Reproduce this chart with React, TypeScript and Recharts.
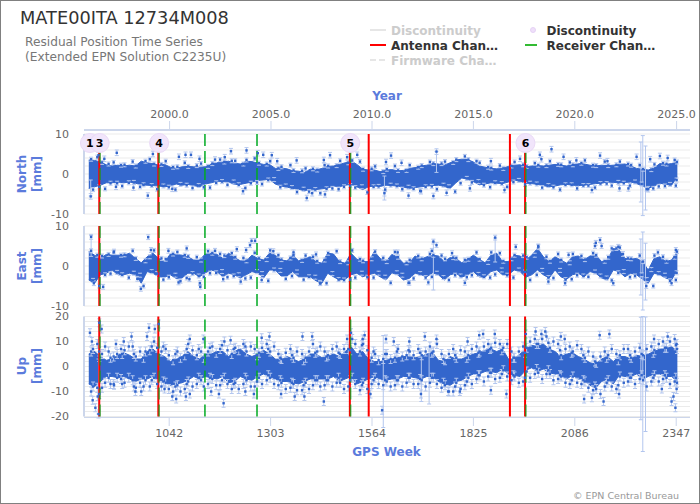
import React from "react";
import {
  ComposedChart, Area, Scatter, XAxis, YAxis, CartesianGrid, ReferenceLine, ErrorBar,
} from "recharts";

const FONT = "'DejaVu Sans', sans-serif";
const BLUE = "#3366cc";
const PALE = "#b3c6ee";
const AXIS = "#ccd6eb";
const LABEL = "#5b7bdc";
const X_DOMAIN = [822.7, 2382.5];

const gpsTicks = [1042, 1303, 1564, 1825, 2086, 2347];
const yearTicks = [1043, 1304, 1564, 1825, 2086, 2348];
const yearLabels = ["2000.0", "2005.0", "2010.0", "2015.0", "2020.0", "2025.0"];

const antennaChanges = [862, 1014, 1507, 1555.5, 1919, 1958];
const receiverSolo = [1134, 1268];
const receiverOver = [864, 1016, 1509, 1960];
const discontinuities = [
  { week: 838, y: 7.75, label: "1" },
  { week: 863, y: 7.75, label: "3" },
  { week: 1016, y: 7.75, label: "4" },
  { week: 1508, y: 7.75, label: "5" },
  { week: 1959, y: 7.75, label: "6" },
];

const bandWeeks = [
  835, 850, 865, 880, 895, 910, 925, 940, 955, 970, 985, 1000, 1015, 1030, 1045, 1060, 1075, 1090, 1105, 1120,
  1135, 1150, 1165, 1180, 1195, 1210, 1225, 1240, 1255, 1270, 1285, 1300, 1315, 1330, 1345, 1360, 1375, 1390, 1405, 1420,
  1435, 1450, 1465, 1480, 1495, 1510, 1525, 1540, 1555, 1570, 1585, 1600, 1615, 1630, 1645, 1660, 1675, 1690, 1705, 1720,
  1735, 1750, 1765, 1780, 1795, 1810, 1825, 1840, 1855, 1870, 1885, 1900, 1915, 1930, 1945, 1960, 1975, 1990, 2005, 2020,
  2035, 2050, 2065, 2080, 2095, 2110, 2125, 2140, 2155, 2170, 2185, 2200, 2215, 2230, 2245, 2260, 2275, 2290, 2305, 2320,
  2335, 2350,
];
const fuzzWeeksA = [
  841, 857, 869, 886, 899, 918, 927, 948, 956, 981, 992, 1003, 1022, 1033, 1052, 1063, 1082, 1091, 1113, 1124,
  1142, 1153, 1173, 1184, 1203, 1212, 1233, 1241, 1262, 1273, 1293, 1302, 1323, 1331, 1354, 1362, 1384, 1393, 1412, 1423,
  1442, 1451, 1473, 1482, 1503, 1513, 1533, 1541, 1563, 1572, 1593, 1602, 1623, 1631, 1653, 1661, 1683, 1692, 1713, 1722,
  1743, 1752, 1773, 1781, 1803, 1812, 1833, 1841, 1863, 1871, 1893, 1902, 1923, 1931, 1953, 1962, 1983, 1992, 2013, 2022,
  2043, 2051, 2073, 2081, 2103, 2112, 2133, 2141, 2163, 2172, 2193, 2202, 2223, 2231, 2253, 2262, 2283, 2291, 2313, 2322,
  2343, 2349,
];
const fuzzWeeksB = [
  846, 862, 877, 891, 908, 921, 938, 951, 967, 976, 997, 1011, 1027, 1041, 1058, 1071, 1087, 1102, 1118, 1131,
  1147, 1163, 1178, 1192, 1208, 1221, 1238, 1252, 1268, 1281, 1297, 1312, 1328, 1342, 1358, 1371, 1388, 1402, 1418, 1431,
  1447, 1462, 1478, 1492, 1508, 1521, 1538, 1552, 1568, 1581, 1598, 1612, 1628, 1642, 1658, 1671, 1688, 1702, 1718, 1731,
  1748, 1762, 1778, 1792, 1808, 1821, 1838, 1852, 1868, 1881, 1898, 1912, 1928, 1942, 1958, 1971, 1988, 2002, 2018, 2031,
  2048, 2062, 2078, 2092, 2108, 2121, 2138, 2152, 2168, 2181, 2198, 2212, 2228, 2241, 2258, 2271, 2288, 2302, 2318, 2331,
  2346, 2348,
];

const northHigh = [
  3.5, 3.4, 3.0, 2.3, 2.0, 2.2, 2.0, 2.2, 2.0, 3.2, 2.8, 2.6, 2.2, 2.4, 1.7, 1.4, 1.8, 1.9, 1.8, 1.7,
  1.8, 2.5, 2.8, 3.0, 3.2, 2.7, 2.5, 3.2, 3.1, 2.7, 2.4, 2.4, 1.4, 1.5, 1.3, 0.8, 0.7, 0.4, 1.2, 1.0,
  1.4, 1.9, 2.0, 2.4, 2.8, 3.3, 2.4, 1.2, 1.0, 1.0, 0.6, 1.0, 1.1, 0.8, 0.9, 1.4, 1.6, 2.0, 2.2, 2.6,
  2.5, 2.2, 2.8, 3.5, 3.7, 3.6, 3.0, 2.0, 1.7, 1.4, 1.3, 1.4, 1.9, 2.2, 2.3, 1.8, 2.0, 2.1, 2.0, 2.2,
  2.4, 2.2, 2.0, 2.3, 2.6, 2.5, 2.2, 2.0, 2.2, 2.1, 2.2, 2.4, 2.5, 2.0, 1.4, 1.2, 1.0, 1.5, 2.6, 2.4,
  2.6, 3.0,
];
const northLow = [
  -3.6, -3.2, -2.8, -2.2, -2.2, -2.0, -2.2, -2.0, -2.3, -2.7, -2.8, -2.9, -3.0, -3.2, -3.0, -2.5, -2.8, -2.6, -2.9, -3.2,
  -2.5, -2.2, -1.8, -1.9, -2.0, -2.6, -2.6, -2.3, -2.0, -1.6, -1.5, -1.3, -2.5, -3.0, -3.3, -3.6, -3.8, -4.2, -3.8, -3.9,
  -3.7, -3.5, -3.0, -3.2, -2.8, -2.6, -3.2, -3.9, -3.2, -3.0, -3.1, -2.8, -2.9, -3.0, -3.3, -3.6, -3.4, -3.2, -3.0, -2.9,
  -2.8, -3.1, -3.6, -2.2, -1.0, -1.3, -1.9, -2.7, -2.5, -2.2, -2.3, -2.4, -2.0, -1.5, -1.8, -2.3, -2.4, -2.6, -2.9, -3.2,
  -3.0, -2.7, -2.6, -2.8, -2.9, -2.8, -2.6, -2.4, -2.3, -2.0, -2.1, -2.2, -2.1, -2.0, -2.4, -3.0, -3.6, -3.0, -2.3, -2.6,
  -2.8, -0.7,
];
const northFuzzHigh = [
  3.7, 4.2, 2.9, 2.5, 2.9, 2.2, 2.3, 3.1, 2.0, 3.2, 3.7, 2.5, 2.4, 3.2, 1.7, 1.8, 2.8, 1.9, 2.1, 2.6,
  1.9, 2.6, 3.6, 3.0, 3.3, 3.3, 2.5, 3.5, 3.9, 2.7, 2.5, 3.2, 1.4, 1.8, 2.2, 0.9, 0.8, 1.4, 1.3, 1.0,
  2.2, 2.0, 2.1, 3.3, 2.8, 3.4, 3.1, 1.2, 1.3, 1.9, 0.6, 1.2, 2.0, 0.9, 0.9, 2.2, 1.7, 2.1, 3.0, 2.6,
  2.6, 3.1, 2.9, 3.6, 4.4, 3.6, 3.2, 2.8, 1.7, 1.5, 2.1, 1.4, 2.0, 3.0, 2.3, 1.9, 2.7, 2.2, 2.1, 3.2,
  2.4, 2.3, 2.9, 2.3, 2.7, 3.4, 2.2, 2.1, 3.1, 2.1, 2.3, 3.1, 2.5, 2.2, 2.2, 1.2, 1.1, 2.4, 2.7, 2.5,
  3.5, 3.0,
];
const northFuzzLow = [
  -3.9, -3.2, -3.7, -2.3, -2.3, -3.0, -2.2, -2.1, -3.2, -2.7, -2.9, -3.8, -3.0, -3.3, -3.9, -2.6, -2.8, -3.5, -2.9, -3.3,
  -3.4, -2.2, -1.9, -2.7, -2.0, -2.7, -3.5, -2.3, -2.1, -2.5, -1.5, -1.4, -3.3, -3.0, -3.4, -4.5, -3.8, -4.4, -3.9, -4.8,
  -3.7, -3.6, -3.8, -3.2, -2.9, -3.4, -3.2, -4.6, -3.2, -3.1, -3.9, -2.8, -3.0, -3.8, -3.3, -3.7, -4.2, -3.2, -3.1, -3.8,
  -2.8, -3.2, -4.4, -2.3, -1.1, -2.1, -1.9, -2.8, -3.3, -2.2, -2.4, -3.2, -2.0, -1.6, -2.6, -2.3, -2.5, -3.4, -2.9, -3.3,
  -3.9, -2.7, -2.7, -3.6, -2.9, -2.9, -3.4, -2.4, -2.4, -2.9, -2.1, -2.3, -2.9, -2.0, -2.5, -3.8, -3.6, -3.1, -3.0, -2.6,
  -2.9, -1.5,
];
const eastHigh = [
  3.6, 2.7, 1.9, 2.9, 2.7, 2.7, 2.7, 3.2, 1.9, 0.8, 2.3, 3.2, 1.9, 1.1, 3.0, 2.9, 2.7, 2.3, 1.5, 1.5,
  3.0, 3.2, 2.9, 1.9, 3.2, 2.1, 1.3, 1.3, 2.7, 1.9, 1.5, 3.2, 2.7, 1.5, 1.3, 2.7, 1.3, 1.9, 2.3, 1.1,
  0.7, 3.2, 3.0, 1.1, 0.7, 3.2, 1.7, 1.1, 1.1, 3.6, 1.9, 1.1, 2.9, 2.2, 0.7, 0.8, 2.5, 1.7, 2.3, 2.7,
  2.5, 1.1, 2.1, 1.9, 0.8, 1.7, 2.7, 1.7, 0.8, 2.7, 3.2, 1.1, 1.1, 2.7, 2.5, 1.5, 2.7, 4.4, 2.3, 1.1,
  2.3, 1.5, 0.7, 2.3, 2.5, 1.5, 2.5, 2.7, 1.1, 1.5, 4.4, 4.0, 1.9, 1.7, 1.9, 1.1, -1.0, 1.9, 2.3, 1.1,
  1.5, 3.6,
];
const eastLow = [
  -3.5, -4.3, -2.2, -1.8, -1.0, -2.2, -2.2, -1.8, -2.2, -4.3, -1.4, -1.8, -2.7, -2.8, -2.2, -3.1, -3.0, -1.8, -1.8, -2.7,
  -1.7, -1.0, -1.4, -2.7, -1.8, -2.2, -3.0, -2.2, -1.4, -1.8, -3.0, -1.0, -1.0, -2.5, -2.5, -1.4, -2.7, -2.7, -2.7, -3.7,
  -4.3, -1.8, -2.7, -3.5, -3.3, -2.2, -1.8, -2.7, -2.2, -1.8, -2.7, -3.5, -1.7, -2.2, -3.5, -3.1, -1.8, -2.2, -2.7, -1.7,
  -2.2, -3.5, -2.2, -1.8, -2.8, -2.2, -1.4, -2.7, -2.8, -1.4, -1.0, -2.2, -2.2, -1.0, -1.4, -2.8, -2.2, -1.0, -2.2, -3.0,
  -1.0, -2.7, -3.3, -2.2, -1.8, -2.7, -1.4, -1.8, -3.0, -3.5, -1.0, -1.4, -2.7, -1.8, -2.2, -3.3, -4.3, -1.8, -2.2, -3.0,
  -3.5, -1.0,
];
const eastFuzzHigh = [
  3.8, 2.7, 2.5, 2.9, 3.4, 2.7, 2.8, 3.8, 1.9, 1.3, 2.3, 3.9, 1.9, 1.7, 3.0, 3.5, 2.7, 2.4, 2.2, 1.5,
  3.7, 3.2, 3.0, 2.6, 3.2, 2.2, 2.0, 1.3, 3.3, 1.9, 1.6, 3.9, 2.7, 1.6, 2.0, 2.7, 1.4, 2.6, 2.3, 1.2,
  1.5, 3.2, 3.7, 1.1, 0.8, 3.9, 1.7, 1.3, 1.8, 3.6, 2.0, 1.1, 3.5, 2.2, 0.8, 1.5, 2.5, 1.8, 3.0, 2.7,
  2.6, 1.8, 2.1, 2.0, 1.5, 1.7, 3.4, 1.7, 0.9, 3.4, 3.2, 1.2, 1.8, 2.7, 2.6, 2.2, 2.7, 5.0, 2.3, 1.2,
  3.0, 1.5, 0.8, 3.0, 2.5, 1.6, 3.2, 2.7, 1.2, 2.2, 4.4, 4.6, 1.9, 1.8, 2.6, 1.1, -0.9, 2.6, 2.3, 1.2,
  2.2, 3.6,
];
const eastFuzzLow = [
  -3.6, -5.0, -2.2, -1.9, -1.6, -2.2, -2.9, -1.8, -2.3, -5.0, -1.4, -1.9, -3.4, -2.8, -2.3, -3.8, -3.0, -1.9, -2.5, -2.7,
  -1.8, -1.7, -1.4, -2.8, -2.5, -2.2, -3.1, -2.9, -1.4, -1.9, -3.7, -1.0, -1.1, -3.2, -2.5, -1.5, -3.4, -2.7, -2.8, -4.4,
  -4.3, -1.9, -3.4, -3.5, -3.4, -2.9, -1.8, -2.8, -2.9, -1.8, -2.8, -4.2, -1.7, -2.3, -4.2, -3.1, -1.9, -2.9, -2.7, -1.8,
  -2.9, -3.5, -2.3, -2.5, -2.8, -2.3, -2.1, -2.7, -2.9, -2.1, -1.0, -2.3, -2.9, -1.0, -1.5, -3.5, -2.2, -1.1, -2.9, -3.0,
  -1.1, -3.4, -3.3, -2.3, -2.5, -2.7, -1.5, -2.5, -3.0, -3.6, -1.7, -1.4, -2.8, -2.5, -2.2, -3.4, -5.0, -1.9, -2.3, -3.7,
  -3.5, -1.7,
];
const upHigh = [
  5, 6, 4, 2.5, 3, 4.5, 5.5, 4.5, 3, 3, 6, 7, 5, 4, 2, 3, 4, 6, 4, 3,
  5, 5, 6, 6, 4, 6, 7, 5, 4, 5, 6.5, 5, 3, 2.5, 4, 3, 2, 3, 5, 5,
  3.5, 4, 5, 4, 6, 8, 5, 6, 3, 2, 2, 2.5, 3, 3.5, 4, 4, 3.5, 4, 5, 5.5,
  2.5, 2, 4, 3, 3, 4, 5, 5.5, 6.5, 7, 6, 7, 3, 3, 5, 7, 8.5, 8, 9, 7,
  6, 4, 5, 5.5, 4, 3, 1.5, 1, 3, 4, 2, 4, 4, 3, 4.5, 4, 5, 6, 7, 7,
  8, 6,
];
const upLow = [
  -7, -8, -6, -4, -4, -4.5, -4, -5, -6, -5, -5, -4, -5.5, -6, -7.5, -7, -6.5, -5.5, -4, -5,
  -4, -4.5, -5, -4, -6.5, -6, -4, -5, -5.5, -4, -3, -4, -5, -6, -6, -6.5, -7, -6, -5, -5,
  -5, -5, -4, -6, -5, -4, -7, -6, -5, -4, -5, -5.5, -5, -5, -4, -4, -4.5, -5, -4, -4,
  -6, -7, -7.5, -6, -5.5, -4, -3, -3, -2, -2, -2.5, -1, -3, -3.5, -4, -1.5, -0.5, -2, -1, -2.5,
  -3, -3.5, -5, -3.5, -5, -5.5, -7.5, -8.5, -6, -5, -7, -3.5, -4, -4, -3, -5, -4, -3, -3, -4,
  -4, -6,
];
const upFuzzHighA = [
  6, 9, 5, 6, 4, 7, 6.5, 8, 4, 6, 6.5, 10, 6, 7, 2.5, 6, 4.5, 9, 4.5, 6,
  6, 8, 7, 10, 5, 7.5, 9, 6, 7, 5.5, 9, 6, 5, 3, 7, 3.5, 5, 3.5, 9, 6,
  6, 4.5, 8, 5, 7, 11, 6, 9, 3.5, 5, 3, 5, 3.5, 7, 4.5, 6, 7, 4.5, 8, 6,
  5, 2.5, 7, 3.5, 6, 4.5, 8, 6, 9, 7.5, 9, 7.5, 6, 3.5, 8, 7.5, 11, 9, 12, 7.5,
  9, 4.5, 8, 6, 7, 3.5, 4, 1.5, 6, 4.5, 5, 4.5, 7, 3.5, 7.5, 4.5, 8, 6.5, 10, 7.5,
  11, 7,
];
const upFuzzLowA = [
  -8, -11, -6.5, -7, -4.5, -7, -4.5, -8, -6.5, -8, -5.5, -7, -6, -9, -8, -10, -7, -8, -4.5, -8,
  -4.5, -7.5, -5.5, -7, -7, -9, -4.5, -8, -6, -7, -3.5, -7, -5.5, -9, -6.5, -9.5, -7.5, -9, -5.5, -8,
  -5.5, -8, -4.5, -9, -5.5, -7, -7.5, -9, -5.5, -7, -5.5, -8, -5.5, -8, -4.5, -7, -5, -8, -4.5, -7,
  -6.5, -10, -8, -9, -6, -7, -3.5, -6, -2.5, -5, -3, -4, -3.5, -6.5, -4.5, -4.5, -1, -5, -1.5, -5.5,
  -3.5, -6.5, -5.5, -6.5, -5.5, -8.5, -8, -11, -6.5, -8, -7.5, -6.5, -4.5, -7, -3.5, -8, -4.5, -6, -3.5, -7,
  -4.5, -9,
];
const upFuzzHighB = [
  7, 6, 8, 3.5, 5, 5, 8, 5, 6, 3.5, 8, 7.5, 8, 4.5, 5, 3.5, 7, 6.5, 7, 3.5,
  7.5, 5.5, 8.5, 6.5, 7, 6.5, 8, 8, 4.5, 7.5, 7, 8, 3.5, 5.5, 4.5, 6, 2.5, 6, 5.5, 8,
  4, 7, 5.5, 7, 6.5, 9, 8.5, 6.5, 6, 2.5, 5, 3, 6, 4, 6.5, 4.5, 5.5, 6, 5.5, 9,
  3, 5, 4.5, 6.5, 3.5, 7, 5.5, 8, 7, 9.5, 6.5, 9, 3.5, 6, 5.5, 10, 9, 11, 9.5, 10,
  6.5, 7, 5.5, 8.5, 4.5, 6, 2, 4, 3.5, 7, 2.5, 7, 4.5, 6, 5, 7, 5.5, 9, 7.5, 10,
  8.5, 9,
];
const upFuzzLowB = [
  -10, -8.5, -8.5, -4.5, -7, -5, -6.5, -5.5, -8.5, -5.5, -8, -4.5, -8, -6.5, -10, -7.5, -9, -6, -7, -5.5,
  -7, -5, -7.5, -4.5, -9, -6.5, -7, -5.5, -8, -4.5, -5.5, -4.5, -7.5, -6.5, -8.5, -7, -9.5, -6.5, -7.5, -5.5,
  -7.5, -5.5, -6.5, -6.5, -8, -4.5, -9.5, -6.5, -7, -4.5, -7.5, -6, -7.5, -5.5, -6.5, -4.5, -7, -5.5, -6.5, -4.5,
  -8.5, -7.5, -10, -6.5, -7.5, -4.5, -5, -3.5, -4, -2.5, -4.5, -1.5, -5.5, -4, -6, -2, -3, -2.5, -3, -3,
  -5, -4, -7, -4, -7, -6, -9.5, -9, -8, -5.5, -9, -4, -6, -4.5, -5, -5.5, -6, -3.5, -5, -4.5,
  -6, -6.5,
];

const northPoints = [
  [907, 5.3], [1000, 5], [987, -5.4], [840, -5.6], [1067, 4.3], [1084, 4.8], [1098, 4.8], [1201, 5.7], [1241, 5.9], [1270, 5.2],
  [1284, 4.8], [1306, 4.7], [1396, -6], [1443, -5.1], [1410, -4.8], [1456, 4.7], [1232, -4.3], [1526, 4.8], [1613, 4.6], [1596, -4.8],
  [1658, -5.4], [1730, 5.6], [1722, -5.5], [1756, -4.7], [1816, -3.6], [2026, 6.2], [1996, 4.8], [2151, 4.6], [2057, 4.3], [2245, 4.3],
  [2305, 4.5], [2201, -3.6], [2224, -3.6], [2275, -3.8], [860, 4.7], [875, 3.8], [905, -3.2], [950, -3.4], [1050, -3.7], [1120, 3.8],
  [1160, 3.6], [1185, 4.2], [1320, 3.2], [1370, 3.4], [1440, 3.5], [1500, 4.2], [1600, 3], [1640, 2.8], [1690, -4.3], [1870, 3.2],
  [1905, -4], [1945, 3.8], [2000, 3.7], [2090, 3.4], [2130, -4], [2170, 3.2], [2280, 3.7], [2325, 4],
];
const northSpikes = [[2256, 0.5, 7.5], [2261, -0.4, 10], [2268, -1, 8], [1596, -3.5, 3], [840, -3.5, 2], [1730, 3, 2.6]];

const eastPoints = [
  [841, 7.3], [988, 7.2], [995, 4], [969, -5.7], [848, -4.3], [872, -5.2], [1087, 4.4], [1121, -4.3], [1122, -5.2], [1094, -3.3],
  [1181, -3.3], [1216, 4.2], [1254, 6.3], [1263, 6.3], [1250, 5.2], [1240, 4], [1280, -3.5], [1226, -3.9], [1420, 2.9], [1430, -4.2],
  [1722, 6.1], [1730, 5.2], [1718, 3.8], [1881, 7.1], [1803, -4.2], [1709, -4.1], [2138, 5], [2140, 5.8], [2151, 6.5], [2155, 5],
  [2018, -3.9], [2061, -4.3], [2185, -4.3], [1992, 4.7], [1934, 4.8], [2198, 4.8], [2335, -4.3], [2181, 4.4], [900, 3.6], [960, -3.2],
  [1040, 3.8], [1066, -4.1], [1160, 3.8], [1310, 3.7], [1362, 3.4], [1630, 3.4], [1660, -4.2], [1770, 3.2], [2070, 2.8], [2210, 3],
  [2270, -5], [2300, 3.4], [2346, 4],
];
const eastSpikes = [[2256, -0.25, 7], [2261, -1.25, 9.75], [2268, -1.4, 7.1], [841, 5, 2.6], [1881, 4, 3], [1722, 0, 6]];

const upPoints = [
  [838, 13.5], [843, 10], [845, -13.5], [852, -16.5], [860, -19], [862, 17.5], [858, -12], [868, 15], [900, -7.5], [905, 9],
  [925, 10], [945, 12], [955, -10], [970, -10], [985, 12], [990, 15.5], [1005, 15], [1015, 17], [1030, -9], [1050, -12],
  [1060, -13], [1085, -12], [1095, -11], [1095, 11], [1130, 11], [1150, -10], [1170, -11], [1182, -14.7], [1200, 10.5], [1238, -10],
  [1260, -11], [1280, 11.5], [1300, 12], [1330, -11], [1365, -12], [1390, -12], [1385, 12], [1410, 12], [1440, -14], [1500, 11],
  [1510, 13.5], [1540, 11], [1545, 12.5], [1560, -11], [1590, -17.5], [1600, 11], [1620, 10], [1660, 10], [1690, -11], [1730, 11],
  [1700, 12], [1760, -10], [1790, -10], [1810, 10], [1840, 12.5], [1850, 13], [1880, 13], [1870, -9.5], [1910, -11], [1960, 13],
  [1985, 14], [2000, 13], [2010, 14], [2050, 12], [2060, 11], [2110, -13], [2130, -12.5], [2150, 12.5], [2175, 13], [2160, -14],
  [2200, -11], [2290, 11], [2310, -9], [2325, 12], [2340, -12], [2345, -16.5], [2335, -14],
];
const upSpikes = [[2256, -0.8, 20.5], [2261, -7, 27], [2268, -3.1, 22.9], [1593, -6, 18.4], [1691, -4, 10], [1711, -4, 11], [860, -8, 11], [862, 10, 8]];

const row = (pair: number[], err: number) => ({ week: pair[0], y: pair[1], err });
const spike = (t: number[]) => ({ week: t[0], y: t[1], err: t[2] });
const zipPoints = (weeks: number[], values: number[], err: number) =>
  weeks.map((w, i) => ({ week: w, y: values[i], err }));

const dot = (p: any) => <rect x={p.cx - 1.2} y={p.cy - 1.2} width={2.4} height={2.4} fill={BLUE} />;
const noDot = () => <g />;
const bubble = (p: any) => <circle cx={p.cx} cy={p.cy} r={9.5} fill="#f1e5fb" stroke="#eadaf7" strokeWidth={1} />;
const bubbleText = (p: any) => (
  <text x={p.cx} y={p.cy + 4} textAnchor="middle" fontFamily={FONT} fontSize={11} fontWeight="bold" fill="#000">
    {p.payload.label}
  </text>
);

function range(a: number, b: number, step: number) {
  const out: number[] = [];
  for (let v = a; v <= b; v += step) out.push(v);
  return out;
}

function Panel(props: any) {
  const { plotTop, plotBottom, domain, ticks, hi, lo, high, low, points, fuzz, spikes, err, showMarks } = props;
  const rows = bandWeeks.map((w, i) => ({ week: w, band: [low[i], high[i]] }));
  const pts = [...fuzz, ...points.map((p: number[]) => row(p, err))];
  const sp = spikes.map(spike);
  const seg = (w: number) => [{ x: w, y: lo }, { x: w, y: hi }];
  return (
    <div style={{ position: "absolute", left: 0, top: 0 }}>
      <ComposedChart
        width={700}
        height={504}
        data={rows}
        margin={{ top: plotTop, bottom: 504 - plotBottom, left: 34, right: 10 }}
      >
        <CartesianGrid vertical={false} stroke="#ebebeb" horizontalValues={range(lo, hi, 2)} />
        <XAxis dataKey="week" type="number" domain={X_DOMAIN} hide />
        <YAxis
          type="number"
          domain={domain}
          ticks={ticks}
          interval={0}
          width={50}
          axisLine={false}
          tickLine={false}
          tickSize={0}
          tickMargin={15}
          tick={{ fontSize: 11, fill: "#666", fontFamily: FONT }}
        />
        <ReferenceLine segment={[{ x: X_DOMAIN[0], y: lo }, { x: X_DOMAIN[0], y: hi }]} stroke={AXIS} strokeWidth={2} />
        {showMarks && (
          <Scatter data={discontinuities} dataKey="y" shape={bubble} isAnimationActive={false} />
        )}
        <Scatter data={sp} dataKey="y" shape={noDot} isAnimationActive={false}>
          <ErrorBar dataKey="err" direction="y" width={2} stroke={PALE} strokeWidth={1} isAnimationActive={false} />
        </Scatter>
        <Scatter data={pts} dataKey="y" shape={dot} isAnimationActive={false}>
          <ErrorBar dataKey="err" direction="y" width={2} stroke={PALE} strokeWidth={1} isAnimationActive={false} />
        </Scatter>
        <Area dataKey="band" type="linear" fill={BLUE} fillOpacity={1} stroke={BLUE} strokeWidth={1} dot={false} activeDot={false} isAnimationActive={false} />
        {antennaChanges.map((w) => (
          <ReferenceLine key={"a" + w} segment={seg(w)} stroke="#ff0000" strokeWidth={2} />
        ))}
        {receiverSolo.map((w) => (
          <ReferenceLine key={"r" + w} segment={seg(w)} stroke="#00aa22" strokeWidth={1.5} strokeDasharray="12 5" />
        ))}
        {receiverOver.map((w) => (
          <ReferenceLine key={"o" + w} segment={seg(w)} stroke="#00aa22" strokeOpacity={0.75} strokeWidth={1.5} strokeDasharray="12 5" />
        ))}
        {showMarks && (
          <Scatter data={discontinuities} dataKey="y" shape={bubbleText} isAnimationActive={false} />
        )}
      </ComposedChart>
    </div>
  );
}

function AxisChart(props: any) {
  const { orientation, ticks, labels, marginTop, marginBottom } = props;
  return (
    <div style={{ position: "absolute", left: 0, top: 0 }}>
      <ComposedChart
        width={700}
        height={504}
        data={ticks.map((w: number) => ({ week: w }))}
        margin={{ top: marginTop, bottom: marginBottom, left: 84, right: 10 }}
      >
        <XAxis
          dataKey="week"
          type="number"
          orientation={orientation}
          domain={X_DOMAIN}
          ticks={ticks}
          interval={0}
          height={30}
          tickSize={9}
          tickMargin={3}
          axisLine={{ stroke: AXIS, strokeWidth: 2 }}
          tickLine={{ stroke: AXIS, strokeWidth: 1 }}
          tick={{ fontSize: 11, fill: "#666", fontFamily: FONT }}
          tickFormatter={labels ? (_v: any, i: number) => labels[i] : undefined}
        />
      </ComposedChart>
    </div>
  );
}

function Overlay() {
  const legendText = { fontFamily: FONT, fontSize: 12, fontWeight: "bold" } as const;
  const axisTitle = { fontFamily: FONT, fontSize: 12, fontWeight: "bold", fill: LABEL } as const;
  const yTitle = (name: string, cy: number) => (
    <g key={name} textAnchor="middle" style={axisTitle}>
      <text transform={`translate(26 ${cy}) rotate(-90)`}>{name}</text>
      <text transform={`translate(41 ${cy}) rotate(-90)`}>[mm]</text>
    </g>
  );
  return (
    <svg width={700} height={504} style={{ position: "absolute", left: 0, top: 0 }}>
      <text x={20} y={24} fontFamily={FONT} fontSize={17.75} fill="#333">MATE00ITA 12734M008</text>
      <text x={25} y={46} fontFamily={FONT} fontSize={12.2} fill="#777">Residual Position Time Series</text>
      <text x={25} y={61} fontFamily={FONT} fontSize={12.2} fill="#777">(Extended EPN Solution C2235U)</text>

      <line x1={370} x2={386} y1={30} y2={30} stroke="#e6e6e6" strokeWidth={2} />
      <text x={391} y={35} style={legendText} fill="#ccc">Discontinuity</text>
      <line x1={370} x2={386} y1={45} y2={45} stroke="#ff0000" strokeWidth={2} />
      <text x={391} y={50} style={legendText} fill="#333">Antenna Chan…</text>
      <line x1={370} x2={386} y1={60} y2={60} stroke="#e6e6e6" strokeWidth={2} strokeDasharray="6 3" />
      <text x={391} y={65} style={legendText} fill="#ccc">Firmware Cha…</text>
      <circle cx={533} cy={30} r={2.5} fill="#efe0fa" stroke="#e6d2f5" />
      <text x={546.5} y={35} style={legendText} fill="#333">Discontinuity</text>
      <line x1={525} x2={537} y1={45} y2={45} stroke="#33bb33" strokeWidth={2} />
      <text x={546.5} y={50} style={legendText} fill="#333">Receiver Chan…</text>

      <text x={387} y={100} textAnchor="middle" style={axisTitle}>Year</text>
      <text x={386.5} y={456} textAnchor="middle" style={axisTitle}>GPS Week</text>
      {yTitle("North", 174)}
      {yTitle("East", 266)}
      {yTitle("Up", 366)}
      <text x={679} y={499} textAnchor="end" fontFamily={FONT} fontSize={9.5} fill="#999">© EPN Central Bureau</text>
    </svg>
  );
}

const northFuzz = [
  ...zipPoints(fuzzWeeksA, northFuzzHigh, 0.5),
  ...zipPoints(fuzzWeeksB, northFuzzLow, 0.5),
];
const eastFuzz = [
  ...zipPoints(fuzzWeeksA, eastFuzzHigh, 0.5),
  ...zipPoints(fuzzWeeksB, eastFuzzLow, 0.5),
];
const upFuzz = [
  ...zipPoints(fuzzWeeksA, upFuzzHighA, 1.8),
  ...zipPoints(fuzzWeeksB, upFuzzLowA, 1.8),
  ...zipPoints(fuzzWeeksB, upFuzzHighB, 1.8),
  ...zipPoints(fuzzWeeksA, upFuzzLowB, 1.8),
];

export default function App() {
  return (
    <div style={{ position: "absolute", left: 0, top: 0, width: 700, height: 504, background: "#fff", overflow: "hidden" }}>
      <AxisChart orientation="top" ticks={yearTicks} labels={yearLabels} marginTop={100} marginBottom={370} />
      <AxisChart orientation="bottom" ticks={gpsTicks} marginTop={410} marginBottom={57} />
      <Panel plotTop={130} plotBottom={218} domain={[-11, 11]} ticks={[10, 0, -10]} hi={10} lo={-10}
        high={northHigh} low={northLow} points={northPoints} fuzz={northFuzz} spikes={northSpikes} err={0.7} showMarks />
      <Panel plotTop={222} plotBottom={310} domain={[-11, 11]} ticks={[10, 0, -10]} hi={10} lo={-10}
        high={eastHigh} low={eastLow} points={eastPoints} fuzz={eastFuzz} spikes={eastSpikes} err={0.6} />
      <Panel plotTop={311.5} plotBottom={456.5} domain={[-36, 22]} ticks={[20, 10, 0, -10, -20]} hi={20} lo={-20}
        high={upHigh} low={upLow} points={upPoints} fuzz={upFuzz} spikes={upSpikes} err={1.6} />
      <Overlay />
      <div style={{ position: "absolute", left: 0, top: 0, width: 700, height: 504, boxSizing: "border-box", border: "1px solid #808080" }} />
    </div>
  );
}
